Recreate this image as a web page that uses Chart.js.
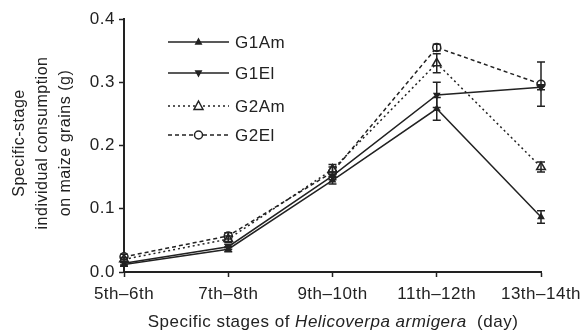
<!DOCTYPE html>
<html>
<head>
<meta charset="utf-8">
<script src="https://cdn.jsdelivr.net/npm/chart.js@4"></script>
<style>
  html, body { margin: 0; padding: 0; background: #fff; }
  #wrap { width: 582px; height: 333px; }
</style>
</head>
<body>
<div id="wrap"><canvas id="chart" width="582" height="333"></canvas></div>
<script>
// Data
const stages = ['5th\u20136th', '7th\u20138th', '9th\u201310th', '11th\u201312th', '13th\u201314th'];
const yTicks = [0.0, 0.1, 0.2, 0.3, 0.4];

const g1Am = [0.012, 0.036, 0.145, 0.258, 0.087];
const g1AmErr = [0.003, 0.004, 0.006, 0.018, 0.01];
const g1El = [0.014, 0.040, 0.152, 0.280, 0.292];
const g1ElErr = [0.003, 0.004, 0.006, 0.02, 0.004];
const g2Am = [0.020, 0.052, 0.162, 0.330, 0.166];
const g2AmErr = [0.003, 0.005, 0.008, 0.015, 0.008];
const g2El = [0.024, 0.057, 0.158, 0.355, 0.297];
const g2ElErr = [0.004, 0.005, 0.008, 0.005, 0.035];

const FONT = '"Liberation Sans", Arial, sans-serif';
const INK = '#222';

// slightly wider text, like the scanned figure
const spacing = {
    id: 'spacing',
    beforeDraw(chart) { chart.ctx.letterSpacing = '0.5px'; }
};

// Vertical error bars with caps
const errorBars = {
    id: 'errorBars',
    afterDatasetsDraw(chart) {
        const ctx = chart.ctx;
        const y = chart.scales.y;
        ctx.save();
        ctx.strokeStyle = INK;
        ctx.lineWidth = 1.5;
        chart.data.datasets.forEach((ds, i) => {
            const meta = chart.getDatasetMeta(i);
            meta.data.forEach((pt, j) => {
                const e = ds.errors[j];
                const top = y.getPixelForValue(ds.data[j] + e);
                const bot = y.getPixelForValue(ds.data[j] - e);
                ctx.beginPath();
                ctx.moveTo(pt.x, top); ctx.lineTo(pt.x, bot);
                ctx.moveTo(pt.x - 4, top); ctx.lineTo(pt.x + 4, top);
                ctx.moveTo(pt.x - 4, bot); ctx.lineTo(pt.x + 4, bot);
                ctx.stroke();
            });
        });
        ctx.restore();
    }
};

// Legend in the upper-left of the plot, plus axis titles
const extras = {
    id: 'extras',
    afterDraw(chart) {
        const ctx = chart.ctx;
        ctx.save();
        // legend
        const x0 = 168, x1 = 229, rows = [42, 73, 106, 135];
        chart.data.datasets.forEach((ds, i) => {
            const yy = rows[i];
            ctx.strokeStyle = INK;
            ctx.lineWidth = 1.5;
            ctx.setLineDash(ds.borderDash || []);
            ctx.beginPath();
            ctx.moveTo(x0, yy); ctx.lineTo(x1, yy);
            ctx.stroke();
            ctx.setLineDash([]);
            const mx = (x0 + x1) / 2;
            ctx.fillStyle = ds.pointBackgroundColor;
            ctx.beginPath();
            if (ds.pointStyle === 'circle') {
                ctx.arc(mx, yy, ds.pointRadius, 0, Math.PI * 2);
            } else {
                const r = ds.pointRadius;
                const s = ds.pointRotation ? -1 : 1;
                ctx.moveTo(mx, yy - s * r);
                ctx.lineTo(mx + r * 0.9, yy + s * r * 0.7);
                ctx.lineTo(mx - r * 0.9, yy + s * r * 0.7);
                ctx.closePath();
            }
            ctx.fill();
            ctx.stroke();
            ctx.fillStyle = INK;
            ctx.font = '17px ' + FONT;
            ctx.textAlign = 'left';
            ctx.textBaseline = 'middle';
            ctx.fillText(ds.label, 235, yy + 1);
        });

        // y axis title
        ctx.fillStyle = INK;
        ctx.font = '16px ' + FONT;
        ctx.textAlign = 'center';
        ctx.textBaseline = 'middle';
        [['Specific-stage', 20], ['individual consumption', 43], ['on maize grains (g)', 66]].forEach(([t, xx]) => {
            ctx.save();
            ctx.translate(xx, 143);
            ctx.rotate(-Math.PI / 2);
            ctx.fillText(t, 0, 0);
            ctx.restore();
        });

        // x axis title with italic species name
        const parts = [['Specific stages of ', ''], ['Helicoverpa armigera', 'italic '], ['  (day)', '']];
        let total = 0;
        parts.forEach(p => { ctx.font = p[1] + '17px ' + FONT; total += ctx.measureText(p[0]).width; });
        let xs = 333 - total / 2;
        ctx.textAlign = 'left';
        parts.forEach(p => {
            ctx.font = p[1] + '17px ' + FONT;
            ctx.fillText(p[0], xs, 322);
            xs += ctx.measureText(p[0]).width;
        });
        ctx.restore();
    }
};

function series(label, data, errors, dash, style, radius, fill, rot) {
    return {
        label: label,
        data: data,
        errors: errors,
        borderColor: INK,
        borderWidth: 1.5,
        borderDash: dash,
        pointStyle: style,
        pointRadius: radius,
        pointRotation: rot || 0,
        pointBackgroundColor: fill,
        pointBorderColor: INK,
        pointBorderWidth: 1.5,
        tension: 0,
        fill: false
    };
}

new Chart(document.getElementById('chart').getContext('2d'), {
    type: 'line',
    data: {
        labels: stages,
        datasets: [
            series('G1Am', g1Am, g1AmErr, [], 'triangle', 3, INK, 0),
            series('G1El', g1El, g1ElErr, [], 'triangle', 3, INK, 180),
            series('G2Am', g2Am, g2AmErr, [2, 3], 'triangle', 5, '#fff', 0),
            series('G2El', g2El, g2ElErr, [4, 3], 'circle', 4, '#fff', 0)
        ]
    },
    options: {
        responsive: false,
        animation: false,
        layout: { padding: { top: 19, right: 41, left: 0, bottom: 0 } },
        plugins: {
            legend: { display: false },
            tooltip: { enabled: false }
        },
        scales: {
            x: {
                offset: false,
                afterFit: function (s) { s.height = 61; s.paddingLeft = 0; s.paddingRight = 0; },
                grid: { drawOnChartArea: false, color: INK, tickLength: 5, tickWidth: 1.5 },
                border: { color: INK, width: 2 },
                ticks: { color: INK, font: { family: FONT, size: 17 }, padding: 7, maxRotation: 0, autoSkip: false }
            },
            y: {
                min: 0,
                max: 0.4,
                afterFit: function (s) { s.width = 124; },
                afterBuildTicks: function (s) { s.ticks = yTicks.map(v => ({ value: v })); },
                grid: { drawOnChartArea: false, color: INK, tickLength: 5, tickWidth: 1.5 },
                border: { color: INK, width: 2 },
                ticks: {
                    color: INK,
                    font: { family: FONT, size: 17 },
                    padding: 4,
                    callback: v => v.toFixed(1)
                }
            }
        }
    },
    plugins: [spacing, errorBars, extras]
});
</script>
</body>
</html>
